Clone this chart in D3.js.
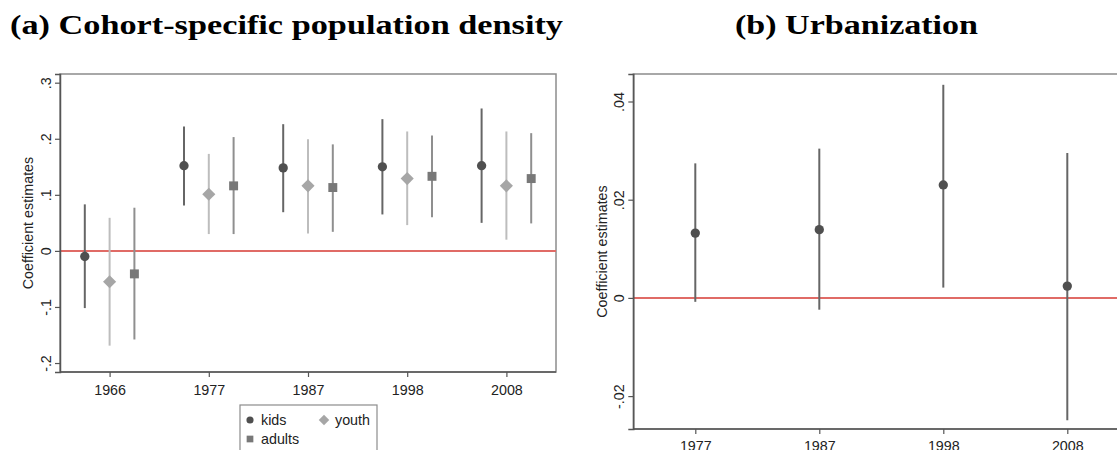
<!DOCTYPE html>
<html><head><meta charset="utf-8">
<script src="https://cdn.jsdelivr.net/npm/d3@7"></script>
<style>body{margin:0;background:#fff}svg{display:block}</style>
</head><body>
<svg id="c" width="1117" height="450"></svg>
<script>
// ---- data ----
const yearsA = ["1966","1977","1987","1998","2008"];
const kidsEst   = [-0.010, 0.152, 0.148, 0.150, 0.152];
const kidsLo    = [-0.102, 0.081, 0.069, 0.065, 0.050];
const kidsHi    = [ 0.083, 0.222, 0.226, 0.235, 0.254];
const youthEst  = [-0.055, 0.101, 0.116, 0.129, 0.116];
const youthLo   = [-0.169, 0.030, 0.031, 0.046, 0.020];
const youthHi   = [ 0.059, 0.173, 0.199, 0.213, 0.213];
const adultsEst = [-0.041, 0.116, 0.113, 0.133, 0.129];
const adultsLo  = [-0.158, 0.030, 0.034, 0.060, 0.049];
const adultsHi  = [ 0.077, 0.203, 0.190, 0.206, 0.210];
const yTicksA = [-0.2,-0.1,0,0.1,0.2,0.3];
const yTickLabelsA = ["-.2","-.1","0",".1",".2",".3"];

const yearsB = ["1977","1987","1998","2008"];
const urbEst = [0.0132, 0.0139, 0.0230, 0.0024];
const urbLo  = [-0.0008, -0.0024, 0.0021, -0.0249];
const urbHi  = [0.0274, 0.0304, 0.0434, 0.0295];
const yTicksB = [-0.02,0,0.02,0.04];
const yTickLabelsB = ["-.02","0",".02",".04"];

const titles = ["(a) Cohort-specific population density","(b) Urbanization"];
const legendLabels = ["kids","youth","adults"];

// ---- drawing ----
const svg = d3.select("#c");
svg.append("rect").attr("width",1117).attr("height",450).attr("fill","#fff");
const FONT = "Liberation Sans, Arial, sans-serif";
const FS = 14.3;

function panel(cfg){
  const g = svg.append("g");
  const {x, y, x0, x1, y0, y1} = cfg;
  g.append("rect").attr("x",x0).attr("y",y1).attr("width",x1-x0).attr("height",y0-y1)
    .attr("fill","#fff").attr("stroke","#8c8c8c").attr("stroke-width",1.5);
  g.append("line").attr("x1",x0).attr("x2",x1).attr("y1",y(0)).attr("y2",y(0))
    .attr("stroke","#e06b66").attr("stroke-width",2);
  const ya = d3.axisLeft(y).tickValues(cfg.yTicks).tickSize(5)
    .tickFormat((d,i)=>cfg.yTickLabels[i]);
  const yg = g.append("g").attr("transform",`translate(${x0},0)`).call(ya);
  yg.select(".domain").attr("stroke","#555").attr("stroke-width",1.5);
  yg.selectAll(".tick line").attr("stroke","#555").attr("stroke-width",1.2);
  yg.selectAll(".tick text").attr("font-family",FONT).attr("font-size",FS).attr("fill","#222")
    .attr("x",0).attr("dy",0).attr("text-anchor","middle")
    .attr("transform","translate(-14,0) rotate(-90)").attr("dominant-baseline","central");
  const xa = d3.axisBottom(x).tickValues(cfg.cats.map((d,i)=>i)).tickSize(5)
    .tickFormat((d)=>cfg.cats[d]);
  const xg = g.append("g").attr("transform",`translate(0,${y0})`).call(xa);
  xg.select(".domain").attr("stroke","#555").attr("stroke-width",1.5)
    .attr("d",`M${x0},0H${x1}`);
  xg.selectAll(".tick line").attr("stroke","#555").attr("stroke-width",1.2);
  xg.selectAll(".tick text").attr("font-family",FONT).attr("font-size",FS).attr("fill","#222")
    .attr("dy",0).attr("y",cfg.xLabOff).attr("dominant-baseline","central");
  g.append("text").attr("transform",`translate(${cfg.titleX},${(y0+y1)/2}) rotate(-90)`)
    .attr("text-anchor","middle").attr("dominant-baseline","central")
    .attr("font-family",FONT).attr("font-size",FS).attr("fill","#222").text("Coefficient estimates");
  return g;
}

function drawSeries(g, x, y, est, lo, hi, off, lineColor, fill, shape){
  g.selectAll(null).data(est).enter().append("line")
    .attr("x1",(d,i)=>x(i+off)).attr("x2",(d,i)=>x(i+off))
    .attr("y1",(d,i)=>y(lo[i])).attr("y2",(d,i)=>y(hi[i]))
    .attr("stroke",lineColor).attr("stroke-width",2);
  const sym = d3.symbol().type(shape==="circle"?d3.symbolCircle:shape==="square"?d3.symbolSquare:d3.symbolDiamond2)
    .size(shape==="circle"?68:shape==="square"?80:110);
  g.selectAll(null).data(est).enter().append("path")
    .attr("d",sym).attr("transform",(d,i)=>`translate(${x(i+off)},${y(d)})`)
    .attr("fill",fill);
}

// Panel A
const xA = d3.scaleLinear().domain([-0.5,4.5]).range([60,556]);
const yA = d3.scaleLinear().domain([-0.216,0.3155]).range([372,74]);
const gA = panel({x:xA,y:yA,x0:60,x1:556,y0:372,y1:74,yTicks:yTicksA,yTickLabels:yTickLabelsA,cats:yearsA,titleX:28,xLabOff:18});
drawSeries(gA,xA,yA,youthEst,youthLo,youthHi,0,"#bdbdbd","#a6a6a6","diamond");
drawSeries(gA,xA,yA,adultsEst,adultsLo,adultsHi,0.25,"#8f8f8f","#787878","square");
drawSeries(gA,xA,yA,kidsEst,kidsLo,kidsHi,-0.25,"#666","#4f4f4f","circle");

// legend
const lg = svg.append("g");
lg.append("rect").attr("x",240).attr("y",405).attr("width",137).attr("height",60)
  .attr("fill","#fff").attr("stroke","#8c8c8c").attr("stroke-width",1.2);
const legItems = [
  {lab:legendLabels[0], x:250, y:420, shape:d3.symbolCircle, size:40, fill:"#4f4f4f"},
  {lab:legendLabels[1], x:324, y:420, shape:d3.symbolDiamond2, size:70, fill:"#a6a6a6"},
  {lab:legendLabels[2], x:250, y:439, shape:d3.symbolSquare, size:45, fill:"#787878"}
];
legItems.forEach(it=>{
  lg.append("path").attr("d",d3.symbol().type(it.shape).size(it.size)).attr("transform",`translate(${it.x},${it.y})`).attr("fill",it.fill);
  lg.append("text").attr("x",it.x+11).attr("y",it.y).attr("dominant-baseline","central")
    .attr("font-family",FONT).attr("font-size",FS).attr("fill","#222").text(it.lab);
});

// Panel B
const xB = d3.scaleLinear().domain([-0.5,3.5]).range([633.3,1129.3]);
const yB = d3.scaleLinear().domain([-0.0267,0.0456]).range([429,74]);
const gB = panel({x:xB,y:yB,x0:633.3,x1:1129.3,y0:429,y1:74,yTicks:yTicksB,yTickLabels:yTickLabelsB,cats:yearsB,titleX:602,xLabOff:17});
drawSeries(gB,xB,yB,urbEst,urbLo,urbHi,0,"#666","#4f4f4f","circle");

// titles
svg.append("text").attr("x",10).attr("y",34)
  .attr("font-family","Liberation Serif, serif").attr("font-weight","bold").attr("font-size",27)
  .attr("textLength",553).attr("lengthAdjust","spacingAndGlyphs").attr("fill","#000").text(titles[0]);
svg.append("text").attr("x",735).attr("y",34)
  .attr("font-family","Liberation Serif, serif").attr("font-weight","bold").attr("font-size",27)
  .attr("textLength",243).attr("lengthAdjust","spacingAndGlyphs").attr("fill","#000").text(titles[1]);
</script>
</body></html>
